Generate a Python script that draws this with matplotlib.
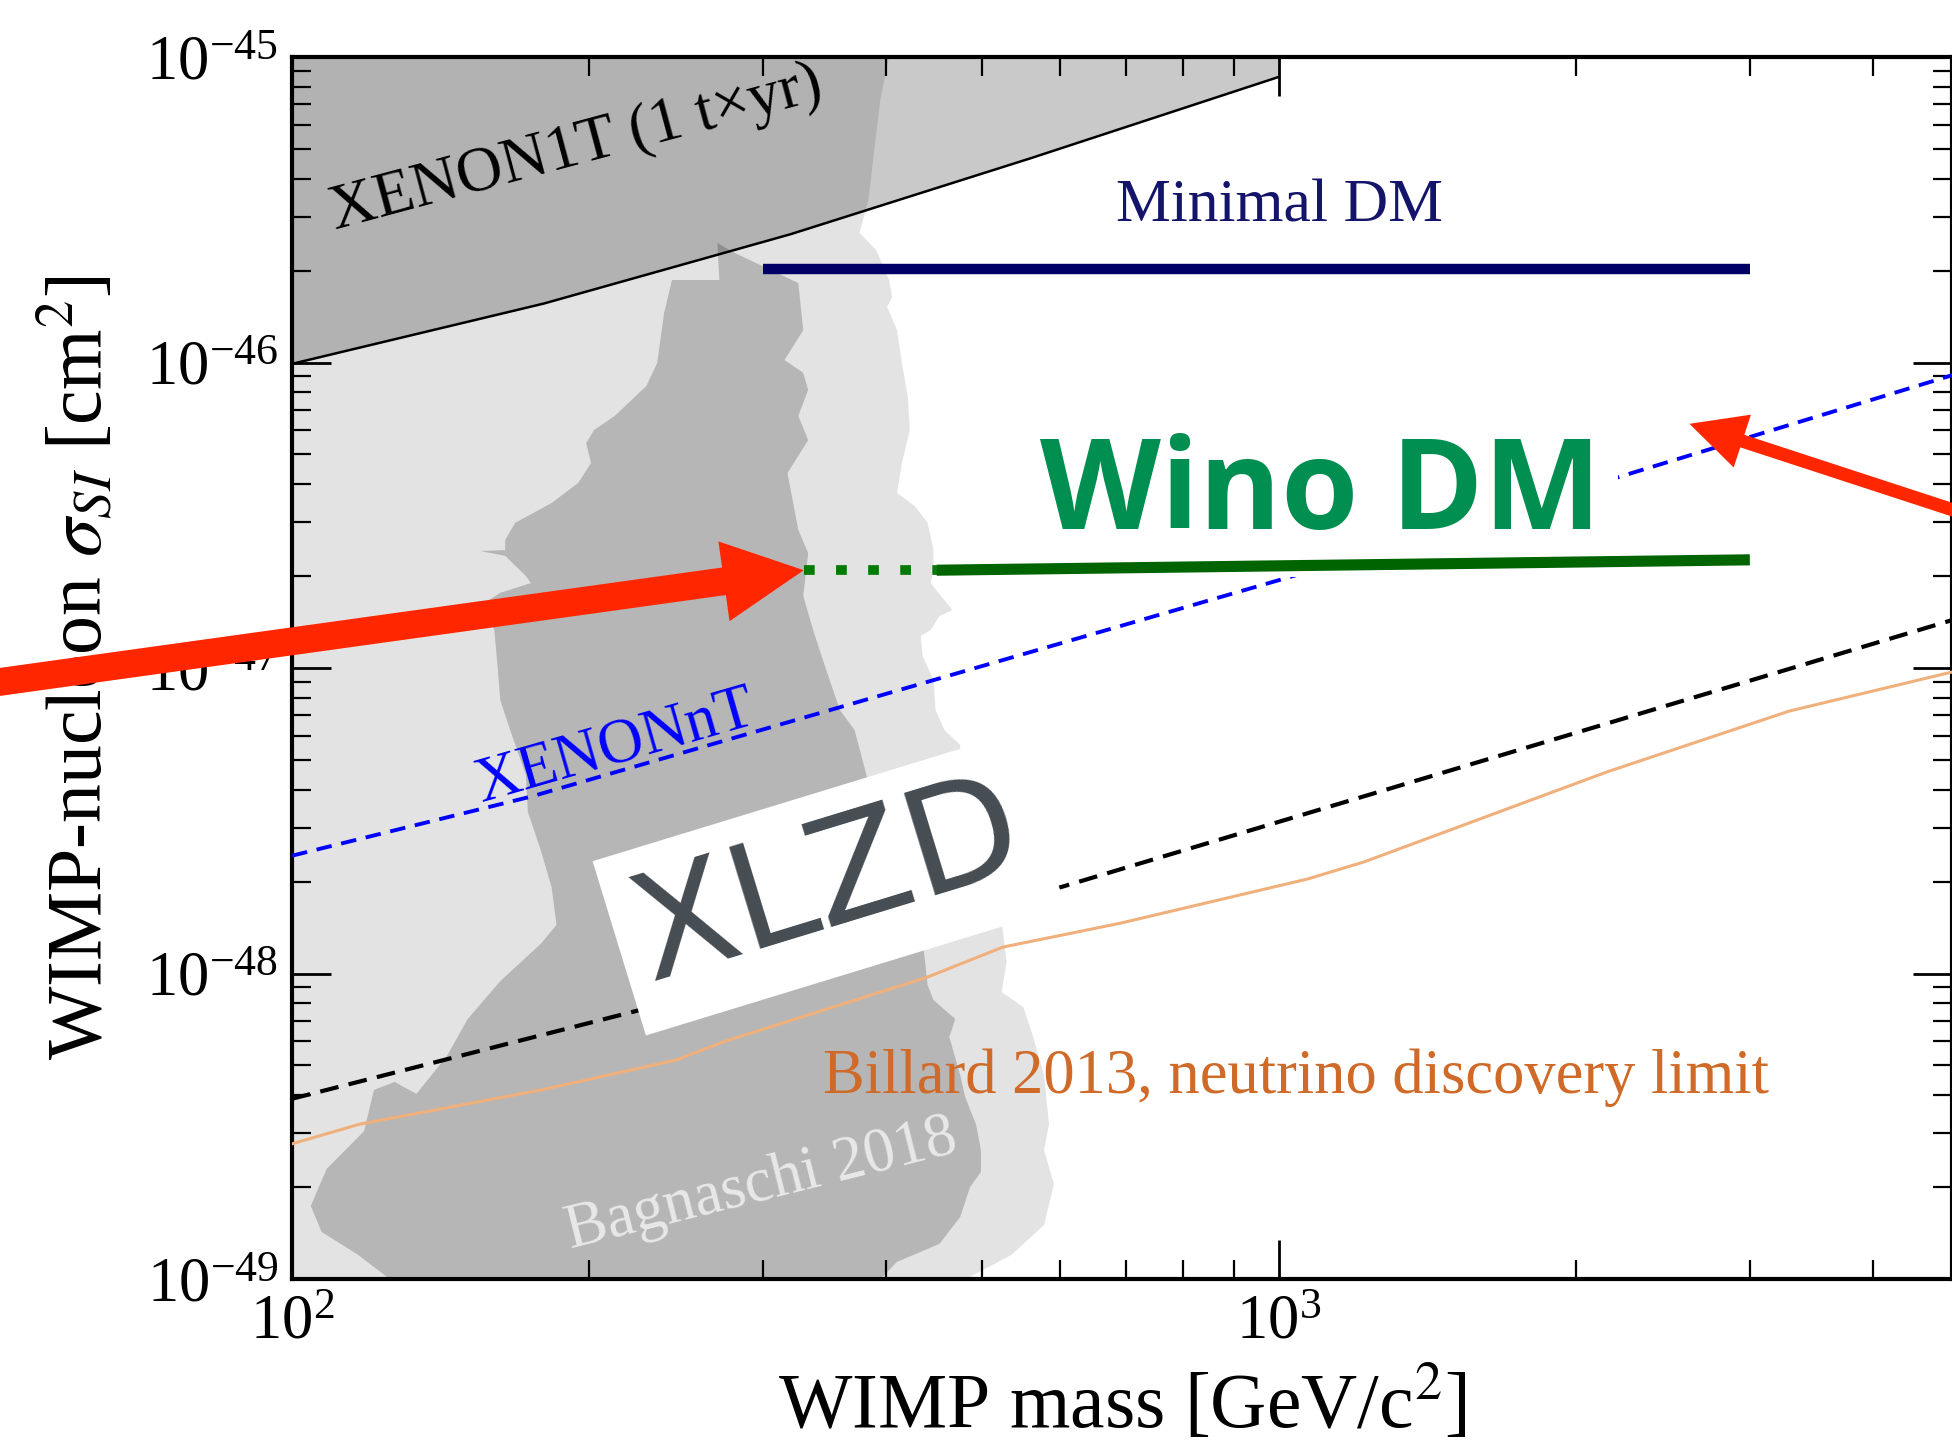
import numpy as np
import matplotlib.pyplot as plt

plt.rcParams['font.family'] = ['Liberation Serif', 'DejaVu Serif']
plt.rcParams['mathtext.fontset'] = 'stix'

# Bagnaschi 2018 contours (log10 mass [GeV], log10 sigma [cm^2])
outer_logm = [1.95, 2.608, 2.596, 2.584, 2.575, 2.592, 2.605, 2.608, 2.603, 2.613,
              2.618, 2.624, 2.626, 2.618, 2.613, 2.631, 2.644, 2.650, 2.650, 2.647,
              2.669, 2.656, 2.647, 2.637, 2.639, 2.650, 2.652, 2.661, 2.677, 2.677,
              2.692, 2.719, 2.724, 2.719, 2.741, 2.751, 2.762, 2.767, 2.762, 2.772,
              2.762, 2.729, 2.687, 2.677, 1.95]
outer_logs = [-44.95, -44.95, -45.141, -45.468, -45.576, -45.632, -45.730, -45.786, -45.818, -45.894,
              -46.002, -46.113, -46.221, -46.329, -46.427, -46.470, -46.525, -46.614, -46.679, -46.722,
              -46.810, -46.830, -46.876, -46.895, -46.961, -47.039, -47.137, -47.203, -47.252, -47.422,
              -47.596, -47.828, -47.962, -48.061, -48.110, -48.208, -48.332, -48.493, -48.578, -48.689,
              -48.823, -48.921, -48.993, -49.07, -49.07]

inner_logm = [2.385, 2.433, 2.431, 2.449, 2.513, 2.518, 2.499, 2.518, 2.523, 2.513,
              2.523, 2.502, 2.513, 2.523, 2.518, 2.528, 2.539, 2.555, 2.570, 2.582,
              2.587, 2.587, 2.639, 2.644, 2.650, 2.672, 2.666, 2.677, 2.682, 2.693,
              2.698, 2.698, 2.687, 2.677, 2.656, 2.613, 2.575, 2.099, 2.099, 2.067,
              2.030, 2.019, 2.035, 2.073, 2.083, 2.104, 2.126, 2.157, 2.178, 2.211,
              2.252, 2.268, 2.263, 2.252, 2.239, 2.237, 2.221, 2.211, 2.208, 2.205,
              2.195, 2.211, 2.242, 2.237, 2.216, 2.191, 2.216, 2.216, 2.226, 2.263,
              2.290, 2.303, 2.298, 2.306, 2.327, 2.359, 2.370, 2.377]
inner_logs = [-45.730, -45.730, -45.609, -45.642, -45.740, -45.894, -45.992, -46.034, -46.090, -46.175,
              -46.254, -46.362, -46.548, -46.624, -46.764, -46.876, -46.984, -47.137, -47.203, -47.350,
              -47.422, -47.596, -47.890, -48.038, -48.087, -48.149, -48.208, -48.332, -48.404, -48.493,
              -48.578, -48.650, -48.699, -48.797, -48.885, -48.944, -49.07, -49.07, -49.0, -48.921,
              -48.846, -48.761, -48.640, -48.516, -48.381, -48.355, -48.394, -48.270, -48.149, -48.025,
              -47.903, -47.841, -47.717, -47.596, -47.471, -47.350, -47.203, -47.105, -46.984, -46.876,
              -46.787, -46.754, -46.722, -46.699, -46.633, -46.617, -46.614, -46.581, -46.525, -46.460,
              -46.394, -46.329, -46.264, -46.221, -46.175, -46.077, -46.002, -45.838]

# XENON1T (1 t x yr) limit
x1t_mass = [100, 180, 320, 560, 1000]
x1t_sigma = [9.9e-47, 1.56e-46, 2.63e-46, 4.66e-46, 8.61e-46]

# projected sensitivities
xnt_mass = [100, 175, 1100, 5000]
xnt_sigma = [2.43e-48, 3.8e-48, 2.12e-47, 9.44e-47]
xlzd_mass = [100, 225, 560, 5000]
xlzd_sigma = [3.89e-49, 7.59e-49, 1.79e-48, 1.49e-47]

# neutrino discovery limit (Billard 2013)
billard_mass = [100, 117, 179, 245, 275, 372, 441, 525, 690, 1070, 1220, 2150, 3290, 5000]
billard_sigma = [2.77e-49, 3.21e-49, 4.16e-49, 5.21e-49, 6.01e-49, 8.18e-49, 9.75e-49,
                 1.22e-48, 1.46e-48, 2.04e-48, 2.32e-48, 4.57e-48, 7.23e-48, 1.0e-47]

# model predictions
mdm_mass = [300, 3000]
mdm_sigma = [2.02e-46, 2.02e-46]
wino_mass = [450, 3000]
wino_sigma = [2.09e-47, 2.26e-47]
wino_ext_mass = [330, 450]
wino_ext_sigma = [2.09e-47, 2.09e-47]

fig = plt.figure(figsize=(19.52, 14.47), dpi=100)
ax = fig.add_axes([0.1496, 0.1161, 0.8504, 0.8445])
ax.set_xscale('log')
ax.set_yscale('log')
ax.set_xlim(100, 4808)
ax.set_ylim(1e-49, 1e-45)

ax.fill(10**np.array(outer_logm), 10**np.array(outer_logs), color='#e3e3e3', lw=0, zorder=0.5)
ax.fill(10**np.array(inner_logm), 10**np.array(inner_logs), color='#b6b6b6', lw=0, zorder=0.6)
ax.fill_between(x1t_mass, x1t_sigma, 1e-45, color='black', alpha=0.21, lw=0, zorder=0.7)
ax.plot(x1t_mass, x1t_sigma, color='black', lw=1.8, zorder=4)

ax.plot(mdm_mass, mdm_sigma, color='#000066', lw=7.5, solid_capstyle='butt', zorder=5)
ax.plot(xnt_mass, xnt_sigma, color='blue', lw=2.8, ls=(0, (4, 2.5)), zorder=4)
ax.plot(xlzd_mass, xlzd_sigma, color='black', lw=3.0, ls=(0, (4.5, 2.5)), zorder=4)
ax.plot(billard_mass, billard_sigma, color='#f0b07c', lw=2.2, zorder=4)
ax.plot(wino_mass, wino_sigma, color='#006400', lw=8, solid_capstyle='butt', zorder=7)
ax.plot(wino_ext_mass, wino_ext_sigma, color='#007a00', lw=7, ls=(0, (1.1, 2.2)),
        dash_capstyle='butt', zorder=7)

ax.text(194, 5.0e-46, 'XENON1T (1 t×yr)', rotation=15, fontsize=46,
        ha='center', va='center', rotation_mode='anchor', zorder=5)
ax.text(1000, 2.9e-46, 'Minimal DM', color='#14146a', fontsize=44.5,
        ha='center', va='baseline', zorder=5)
ax.text(213, 5.5e-48, 'XENONnT', color='blue', rotation=16, fontsize=45,
        ha='center', va='center', rotation_mode='anchor', zorder=5)
ax.text(299, 2.03e-49, 'Bagnaschi 2018', color='#e8e8e8', rotation=14, fontsize=45,
        ha='center', va='center', rotation_mode='anchor', zorder=5)
ax.text(1040, 4.06e-49, 'Billard 2013, neutrino discovery limit', color='#d06a28',
        fontsize=45, ha='center', va='baseline', zorder=5)

ax.text(1101, 2.85e-47, 'Wino DM', family='Open Sans', weight='bold', fontsize=90,
        color='#008f50', ha='center', va='baseline', zorder=6,
        bbox=dict(boxstyle='square,pad=0.14', fc='white', ec='none'))
ax.text(350, 1.96e-48, 'XLZD', family='DejaVu Sans', fontsize=106, color='#454c52',
        rotation=17, ha='center', va='center', rotation_mode='anchor', zorder=6,
        bbox=dict(boxstyle='square,pad=0.14', fc='white', ec='none'))

ax.annotate('', xy=(wino_ext_mass[0], wino_ext_sigma[0]), xycoords='data',
            xytext=(-0.02, 0.525), textcoords='figure fraction',
            arrowprops=dict(arrowstyle='simple,head_length=5.8,head_width=5.8,tail_width=2.0',
                            mutation_scale=10, color='#ff2600', lw=0, shrinkA=0, shrinkB=0),
            annotation_clip=False, zorder=8)
ax.annotate('', xy=(2606, 6.3e-47), xycoords='data',
            xytext=(1.02, 0.639), textcoords='figure fraction',
            arrowprops=dict(arrowstyle='simple,head_length=4.0,head_width=4.0,tail_width=0.95',
                            mutation_scale=10, color='#ff2600', lw=0, shrinkA=0, shrinkB=0),
            annotation_clip=False, zorder=8)

ax.tick_params(which='both', direction='in', top=True, right=True)
ax.tick_params(which='major', length=28, width=2, labelsize=45)
ax.tick_params(which='minor', length=14, width=1.6)
ax.tick_params(axis='x', pad=11)
ax.tick_params(axis='y', pad=10)
ax.xaxis.set_minor_formatter(plt.NullFormatter())
ax.yaxis.set_minor_formatter(plt.NullFormatter())
for s in ax.spines.values():
    s.set_linewidth(3)

ax.set_xlabel(r'WIMP mass [GeV/c$^2$]', fontsize=56, labelpad=10)
ax.set_ylabel(r'WIMP-nucleon $\sigma_{SI}$ [cm$^2$]', fontsize=56, labelpad=20)

fig.savefig('out.png', dpi=100)
